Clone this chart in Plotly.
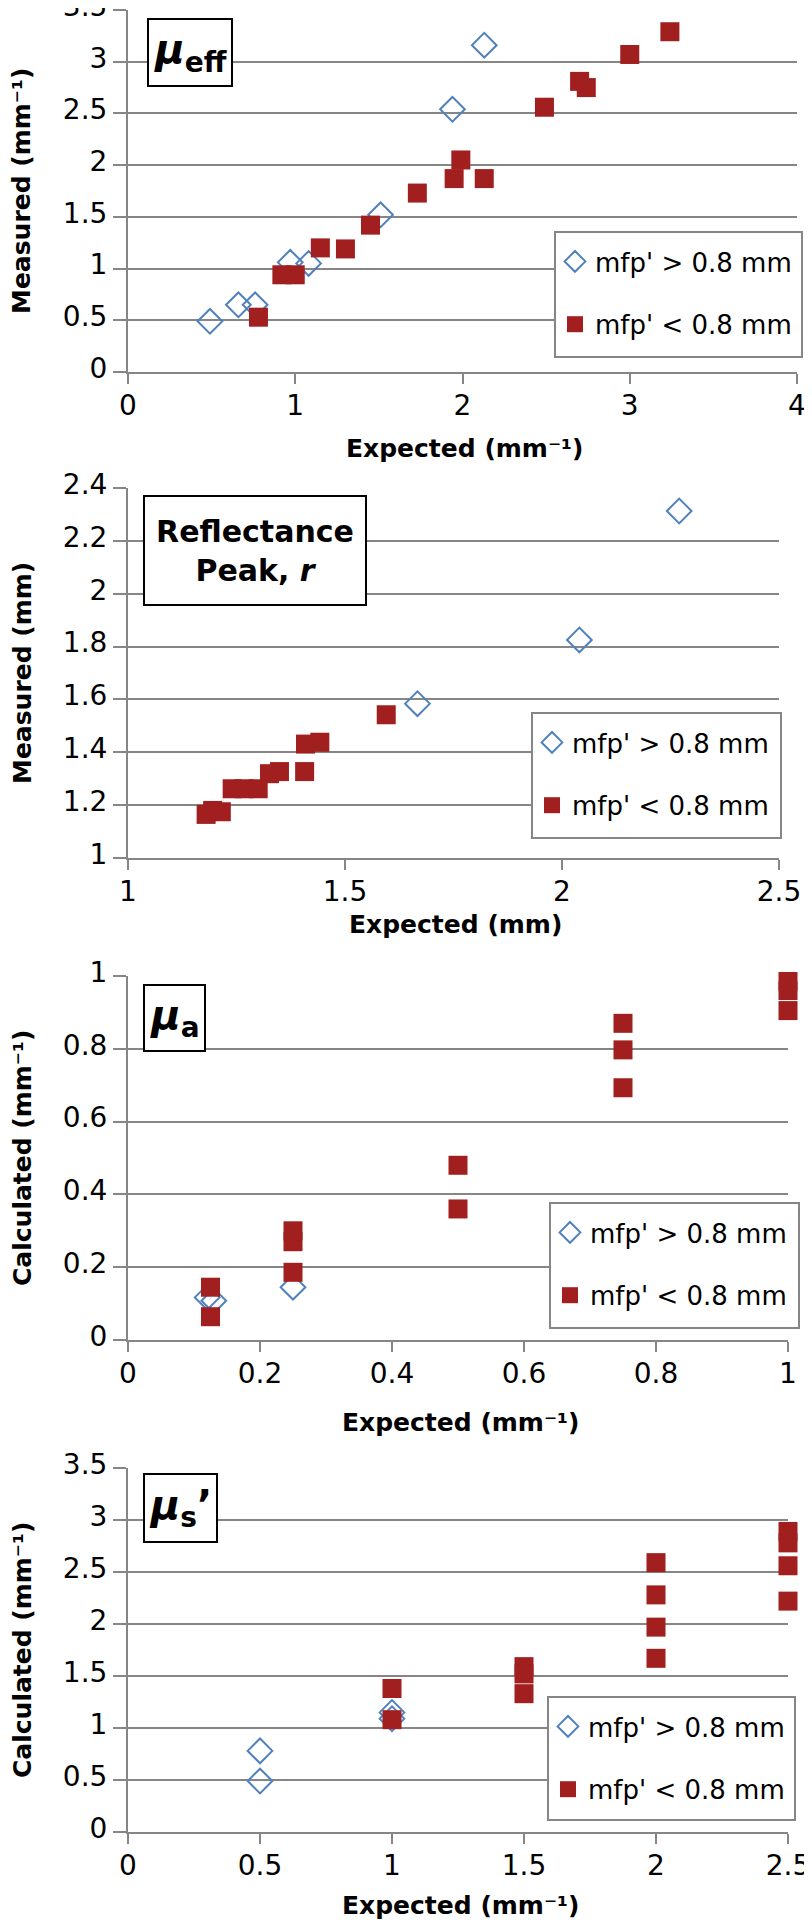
import plotly.graph_objects as go

# page has an 8px body margin, so the figure is made 16px smaller and
# all positions below are given in page pixels and shifted by OFF
W, H = 796, 1912
OFF = 8

# panel 1: mu_eff
p1_blue_x = [0.49, 0.66, 0.76, 0.97, 1.08, 1.51, 1.94, 2.13]
p1_blue_y = [0.49, 0.65, 0.65, 1.06, 1.05, 1.52, 2.54, 3.16]
p1_red_x = [0.78, 0.92, 1.00, 1.15, 1.30, 1.45, 1.73, 1.95, 1.99, 2.13, 2.49, 2.70, 2.74, 3.00, 3.24]
p1_red_y = [0.53, 0.94, 0.94, 1.20, 1.19, 1.42, 1.73, 1.87, 2.05, 1.87, 2.56, 2.81, 2.75, 3.07, 3.29]

# panel 2: reflectance peak
p2_blue_x = [1.667, 2.04, 2.27]
p2_blue_y = [1.584, 1.825, 2.313]
p2_red_x = [1.18, 1.195, 1.215, 1.24, 1.267, 1.30, 1.326, 1.349, 1.407, 1.409, 1.442, 1.595]
p2_red_y = [1.165, 1.18, 1.175, 1.262, 1.262, 1.262, 1.319, 1.327, 1.327, 1.431, 1.438, 1.542]

# panel 3: mu_a
p3_blue_x = [0.12, 0.13, 0.25]
p3_blue_y = [0.117, 0.108, 0.145]
p3_red_x = [0.125, 0.125, 0.25, 0.25, 0.25, 0.5, 0.5, 0.75, 0.75, 0.75, 1.0, 1.0, 1.0]
p3_red_y = [0.145, 0.064, 0.186, 0.27, 0.30, 0.48, 0.36, 0.87, 0.797, 0.693, 0.985, 0.96, 0.905]

# panel 4: mu_s'
p4_blue_x = [0.5, 0.5, 1.0, 1.0]
p4_blue_y = [0.78, 0.49, 1.15, 1.09]
p4_red_x = [1.0, 1.0, 1.5, 1.5, 1.5, 2.0, 2.0, 2.0, 2.0, 2.5, 2.5, 2.5, 2.5]
p4_red_y = [1.38, 1.08, 1.59, 1.52, 1.33, 2.59, 2.28, 1.97, 1.67, 2.89, 2.78, 2.56, 2.22]

name_hi = "mfp' > 0.8 mm"
name_lo = "mfp' &lt; 0.8 mm"

BLUE = '#4F81BD'
RED = '#A11F1F'
GRID = '#868686'
FONT = 'DejaVu Sans'


def fx(px):
    return (px - OFF) / W


def fy(py):
    return 1 - (py - OFF) / H


panels = [
    dict(bx=p1_blue_x, by=p1_blue_y, rx=p1_red_x, ry=p1_red_y, xr=[0, 4], dx=1, yr=[0, 3.5], dy=0.5,
         xpx=(128, 797), ypx=(10, 372), xt="Expected (mm⁻¹)", yt="Measured (mm⁻¹)",
         leg=(555, 232, 802, 357), xty=448),
    dict(bx=p2_blue_x, by=p2_blue_y, rx=p2_red_x, ry=p2_red_y, xr=[1, 2.5], dx=0.5, yr=[1, 2.4], dy=0.2,
         xpx=(128, 779), ypx=(488, 858), xt="Expected (mm)", yt="Measured (mm)",
         leg=(532, 713, 781, 838), xty=924),
    dict(bx=p3_blue_x, by=p3_blue_y, rx=p3_red_x, ry=p3_red_y, xr=[0, 1], dx=0.2, yr=[0, 1], dy=0.2,
         xpx=(128, 788), ypx=(976, 1340), xt="Expected (mm⁻¹)", yt="Calculated (mm⁻¹)",
         leg=(550, 1203, 799, 1328), xty=1422),
    dict(bx=p4_blue_x, by=p4_blue_y, rx=p4_red_x, ry=p4_red_y, xr=[0, 2.5], dx=0.5, yr=[0, 3.5], dy=0.5,
         xpx=(128, 788), ypx=(1468, 1832), xt="Expected (mm⁻¹)", yt="Calculated (mm⁻¹)",
         leg=(548, 1697, 795, 1820), xty=1905),
]

fig = go.Figure()
annotations = []
shapes = []
layout = {}

for i, p in enumerate(panels):
    n = '' if i == 0 else str(i + 1)
    legname = 'legend' + n
    fig.add_trace(go.Scatter(
        x=p['bx'], y=p['by'], mode='markers', name=name_hi,
        xaxis='x' + n, yaxis='y' + n, legend=legname, legendgroup='hi' + n,
        cliponaxis=False,
        marker=dict(symbol='diamond-open', size=19, color=BLUE, line=dict(width=2, color=BLUE))))
    fig.add_trace(go.Scatter(
        x=p['rx'], y=p['ry'], mode='markers', name=name_lo,
        xaxis='x' + n, yaxis='y' + n, legend=legname, legendgroup='lo' + n,
        cliponaxis=False,
        marker=dict(symbol='square', size=19, color=RED)))

    x0, x1 = p['xpx']
    top, bot = p['ypx']
    layout['xaxis' + n] = dict(
        domain=[fx(x0), fx(x1)], range=p['xr'], dtick=p['dx'], tick0=p['xr'][0],
        anchor='y' + n, showgrid=False, zeroline=False,
        showline=True, linecolor=GRID, linewidth=2,
        ticks='outside', ticklen=10, tickwidth=2, tickcolor=GRID,
        ticklabelstandoff=-3, ticklabeloverflow='allow',
        tickfont=dict(family=FONT, size=28, color='black'), automargin=False)
    layout['yaxis' + n] = dict(
        domain=[fy(bot), fy(top)], range=p['yr'], dtick=p['dy'], tick0=p['yr'][0],
        anchor='x' + n, showgrid=True, gridcolor=GRID, gridwidth=2, zeroline=False,
        showline=True, linecolor=GRID, linewidth=2,
        ticks='outside', ticklen=13, tickwidth=2, tickcolor=GRID,
        ticklabelstandoff=0, ticklabelshift=-4, ticklabeloverflow='allow',
        tickfont=dict(family=FONT, size=28, color='black'), automargin=False)

    # legend frame drawn as a box, entries placed inside it
    lx0, ly0, lx1, ly1 = p['leg']
    shapes.append(dict(
        type='rect', xref='paper', yref='paper',
        x0=fx(lx0), x1=fx(lx1), y0=fy(ly1), y1=fy(ly0),
        line=dict(color=GRID, width=2), fillcolor='white', layer='above'))
    layout[legname] = dict(
        x=fx(lx0), y=fy(ly0 + 6), xanchor='left', yanchor='top',
        borderwidth=0, bgcolor='rgba(0,0,0,0)',
        font=dict(family=FONT, size=26, color='black'),
        traceorder='grouped', tracegroupgap=26)

    annotations.append(dict(
        text='<b>' + p['xt'] + '</b>', xref='paper', yref='paper',
        x=fx((x0 + x1) / 2 + 2), y=fy(p['xty']), xanchor='center', yanchor='middle',
        showarrow=False, font=dict(family=FONT, size=25, color='black')))
    annotations.append(dict(
        text='<b>' + p['yt'] + '</b>', xref='paper', yref='paper', textangle=-90,
        x=fx(22), y=fy((top + bot) / 2), xanchor='center', yanchor='middle',
        showarrow=False, font=dict(family=FONT, size=25, color='black')))

# label boxes in the upper-left corner of each panel: text, left, top, width, height, font size
boxes = [
    ('<b><i>μ</i></b><sub><b>eff</b></sub>', 147, 18, 82, 65, 40),
    ('<b>Reflectance<br>Peak, <i>r</i></b>', 143, 495, 220, 107, 30),
    ('<b><i>μ</i></b><sub><b>a</b></sub>', 143, 984, 59, 64, 40),
    ('<b><i>μ</i></b><sub><b>s</b></sub><b>’</b>', 143, 1473, 71, 66, 40),
]
for txt, bx, by, bw, bh, fs in boxes:
    annotations.append(dict(
        text=txt, xref='paper', yref='paper', x=fx(bx), y=fy(by),
        xanchor='left', yanchor='top', showarrow=False, width=bw, height=bh,
        align='center', valign='middle', bordercolor='black', borderwidth=2,
        borderpad=0, bgcolor='white',
        font=dict(family=FONT, size=fs, color='black')))

fig.update_layout(
    width=W, height=H, margin=dict(l=0, r=0, t=0, b=0),
    plot_bgcolor='white', paper_bgcolor='white',
    annotations=annotations, shapes=shapes, showlegend=True, **layout)

fig.write_html("out.html")
